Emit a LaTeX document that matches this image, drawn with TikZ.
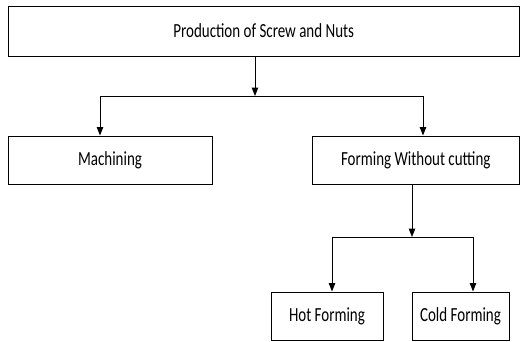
\documentclass[tikz,border=0pt]{standalone}
\usepackage{fontspec}
\setmainfont{Carlito}[FakeStretch=0.75]
\usetikzlibrary{arrows.meta}
\begin{document}
\begin{tikzpicture}[x=1pt,y=-1pt,
  box/.style={draw, line width=1pt, rectangle, inner sep=0pt, font=\fontsize{20}{23}\selectfont},
  arr/.style={-{Triangle[width=6.5pt,length=8.5pt]}, line width=1pt},
  ln/.style={line width=1pt}]
\useasboundingbox (0,0) rectangle (520,341);
\node[box, minimum width=511pt, minimum height=50pt] (top) at (263.75,31) {Production of Screw and Nuts};
\node[box, minimum width=204pt, minimum height=48pt] (mach) at (110,160) {Machining};
\node[box, minimum width=207pt, minimum height=48pt] (form) at (415.75,160) {Forming Without cutting};
\node[box, minimum width=112pt, minimum height=48pt] (hot) at (327,316) {Hot Forming};
\node[box, minimum width=97pt, minimum height=48pt] (cold) at (460.5,316) {Cold Forming};
\coordinate (j1) at (255,96);
\coordinate (l1) at (100,96);
\coordinate (r1) at (423,96);
\draw[arr] (j1 |- top.south) -- (j1);
\draw[ln] (l1) -- (r1);
\draw[arr] (l1) -- (l1 |- mach.north);
\draw[arr] (r1) -- (r1 |- form.north);
\coordinate (j2) at (412,237);
\coordinate (l2) at (332,237);
\coordinate (r2) at (473,237);
\draw[arr] (j2 |- form.south) -- (j2);
\draw[ln] (l2) -- (r2);
\draw[arr] (l2) -- (l2 |- hot.north);
\draw[arr] (r2) -- (r2 |- cold.north);
\end{tikzpicture}
\end{document}
